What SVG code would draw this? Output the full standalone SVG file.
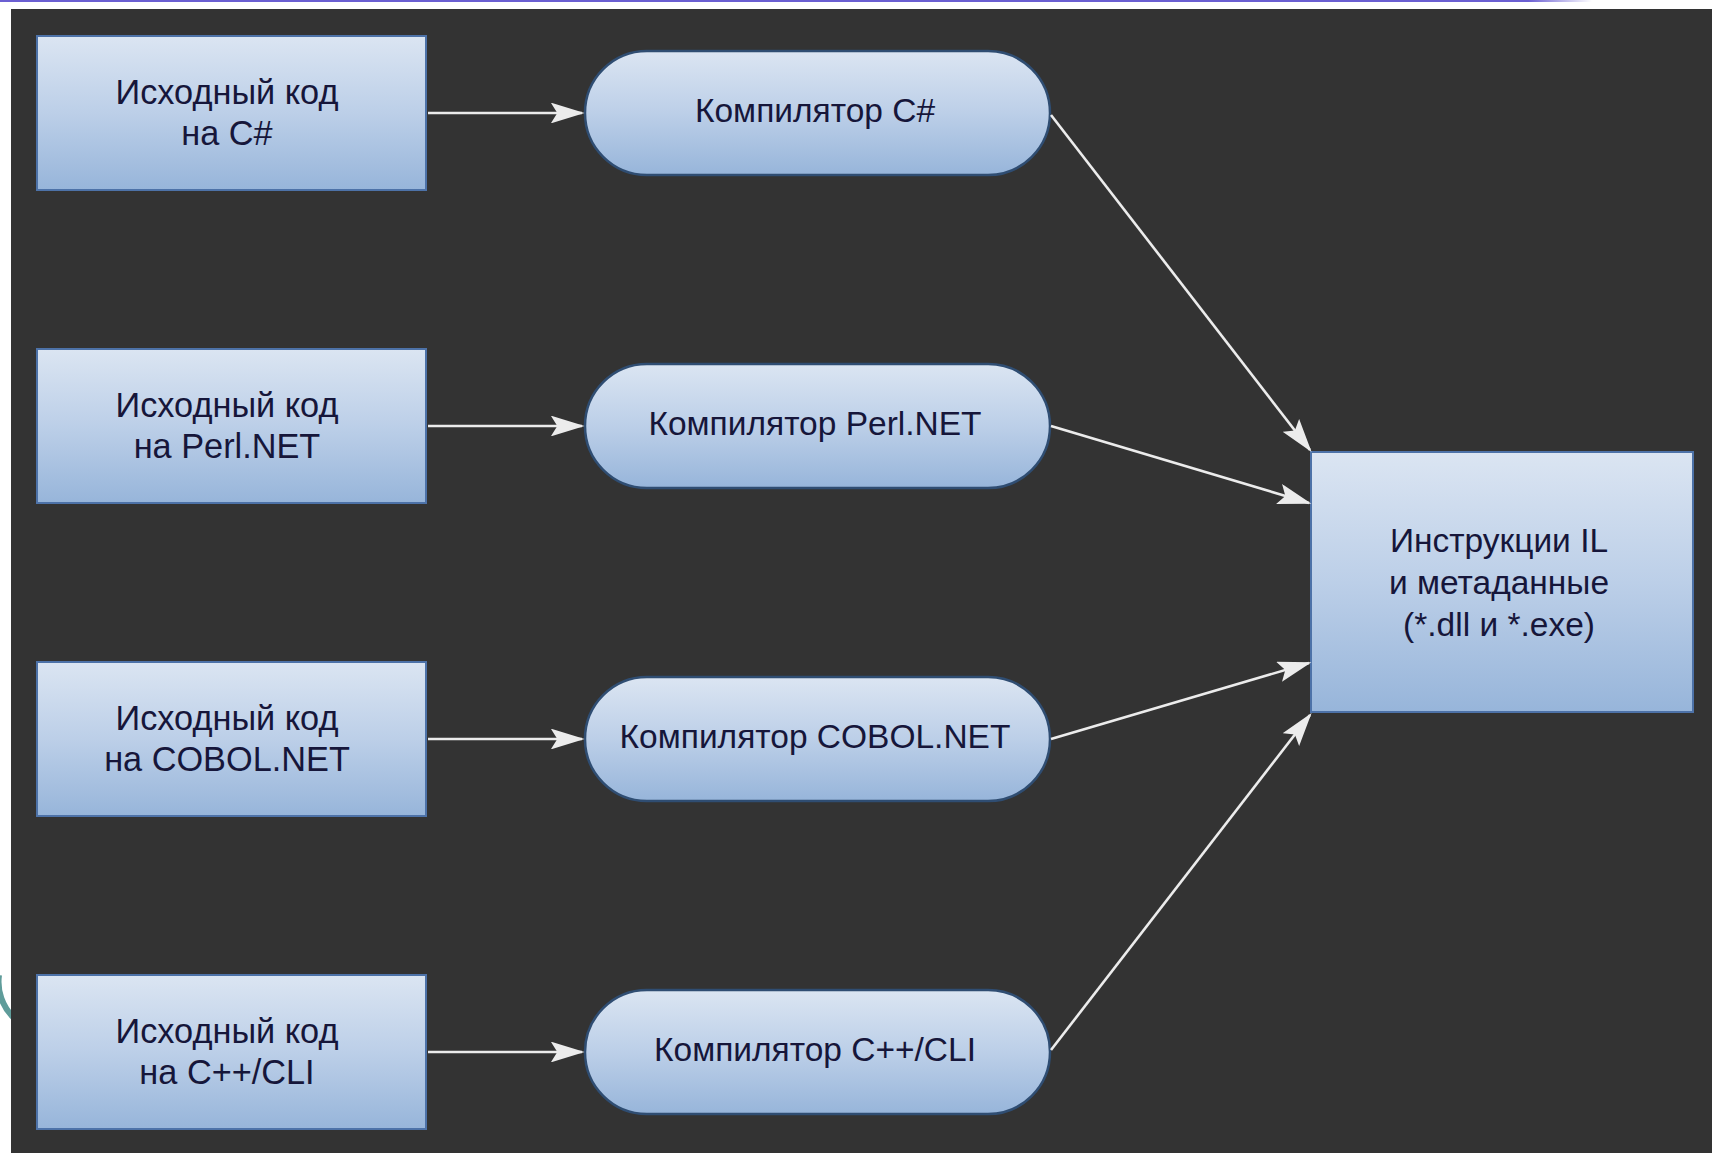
<svg xmlns="http://www.w3.org/2000/svg" width="1712" height="1153" viewBox="0 0 1712 1153">
  <defs>
    <linearGradient id="fillBlue" x1="0" y1="0" x2="0" y2="1">
      <stop offset="0" stop-color="#dbe5f2"/>
      <stop offset="0.5" stop-color="#bccfe8"/>
      <stop offset="1" stop-color="#97b5da"/>
    </linearGradient>
    <linearGradient id="topRule" x1="0" y1="0" x2="1" y2="0">
      <stop offset="0" stop-color="#6b5fd2"/>
      <stop offset="0.96" stop-color="#6b5fd2"/>
      <stop offset="1" stop-color="#6b5fd2" stop-opacity="0"/>
    </linearGradient>
    <marker id="arrow" markerWidth="13" markerHeight="8" refX="12" refY="4" orient="auto" markerUnits="strokeWidth">
      <path d="M0,0 L13,4 L0,8 L2.5,4 Z" fill="#ececec"/>
    </marker>
  </defs>
  <style>
    .rect { fill: url(#fillBlue); stroke: #4d72a8; stroke-width: 2; }
    .pill { fill: url(#fillBlue); stroke: #2f4d72; stroke-width: 2.5; }
    .label { font-family: "Liberation Sans", Arial, sans-serif; font-size: 33.5px; fill: #16163a; text-anchor: middle; }
    .src { font-size: 34.3px; }
    .link { stroke: #ececec; stroke-width: 2.6; fill: none; marker-end: url(#arrow); }
  </style>

  <!-- page background and top rule -->
  <rect x="0" y="0" width="1712" height="1153" fill="#ffffff"/>
  <rect x="0" y="0" width="1592" height="2" fill="url(#topRule)"/>
  <path d="M -1,975 A 50 50 0 0 0 14,1018" fill="none" stroke="#5f9c9a" stroke-width="6"/>
  <rect x="11" y="9" width="1701" height="1144" fill="#333333"/>

  <!-- source code boxes -->
  <g id="src-csharp">
    <rect class="rect" x="37" y="36" width="389" height="154"/>
    <text class="label src" x="227" y="104">Исходный код</text>
    <text class="label src" x="227" y="145">на C#</text>
  </g>
  <g id="src-perl">
    <rect class="rect" x="37" y="349" width="389" height="154"/>
    <text class="label src" x="227" y="417">Исходный код</text>
    <text class="label src" x="227" y="458">на Perl.NET</text>
  </g>
  <g id="src-cobol">
    <rect class="rect" x="37" y="662" width="389" height="154"/>
    <text class="label src" x="227" y="730">Исходный код</text>
    <text class="label src" x="227" y="771">на COBOL.NET</text>
  </g>
  <g id="src-cpp">
    <rect class="rect" x="37" y="975" width="389" height="154"/>
    <text class="label src" x="227" y="1043">Исходный код</text>
    <text class="label src" x="227" y="1084">на C++/CLI</text>
  </g>

  <!-- compilers -->
  <g id="comp-csharp">
    <rect class="pill" x="585" y="51" width="465" height="124" rx="62" ry="62"/>
    <text class="label" x="815" y="122">Компилятор C#</text>
  </g>
  <g id="comp-perl">
    <rect class="pill" x="585" y="364" width="465" height="124" rx="62" ry="62"/>
    <text class="label" x="815" y="435">Компилятор Perl.NET</text>
  </g>
  <g id="comp-cobol">
    <rect class="pill" x="585" y="677" width="465" height="124" rx="62" ry="62"/>
    <text class="label" x="815" y="748">Компилятор COBOL.NET</text>
  </g>
  <g id="comp-cpp">
    <rect class="pill" x="585" y="990" width="465" height="124" rx="62" ry="62"/>
    <text class="label" x="815" y="1061">Компилятор C++/CLI</text>
  </g>

  <!-- output -->
  <g id="il-output">
    <rect class="rect" x="1311" y="452" width="382" height="260"/>
    <text class="label" x="1499" y="552">Инструкции IL</text>
    <text class="label" x="1499" y="594">и метаданные</text>
    <text class="label" x="1499" y="636">(*.dll и *.exe)</text>
  </g>

  <!-- connectors -->
  <g id="connectors">
    <line class="link" x1="428" y1="113" x2="582" y2="113"/>
    <line class="link" x1="428" y1="426" x2="582" y2="426"/>
    <line class="link" x1="428" y1="739" x2="582" y2="739"/>
    <line class="link" x1="428" y1="1052" x2="582" y2="1052"/>
    <line class="link" x1="1051" y1="115" x2="1310" y2="450"/>
    <line class="link" x1="1051" y1="426" x2="1309" y2="503"/>
    <line class="link" x1="1051" y1="739" x2="1309" y2="663"/>
    <line class="link" x1="1051" y1="1050" x2="1310" y2="715"/>
  </g>
</svg>
